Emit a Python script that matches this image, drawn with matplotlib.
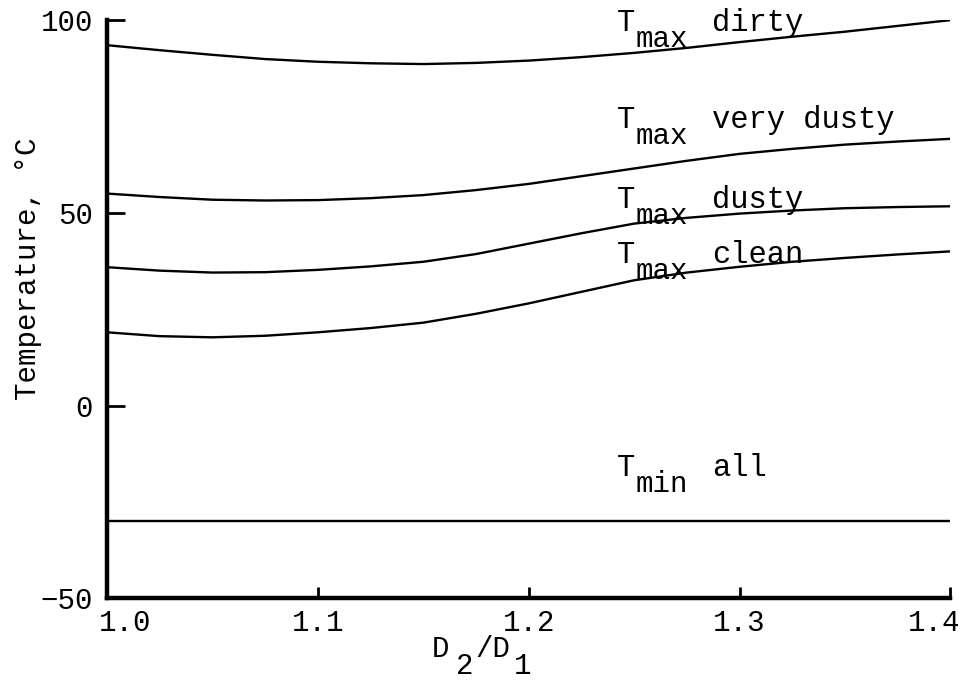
import numpy as np
import matplotlib
matplotlib.use("Agg")
import matplotlib.pyplot as plt
from matplotlib.transforms import ScaledTranslation

plt.rcParams['font.family'] = ['Liberation Mono', 'DejaVu Sans Mono']

# D2/D1 values
ratio = [1.0, 1.025, 1.05, 1.075, 1.1, 1.125, 1.15, 1.175, 1.2,
         1.225, 1.25, 1.275, 1.3, 1.325, 1.35, 1.375, 1.4]

t_dirty = [93.5, 92.2, 91.0, 89.9, 89.2, 88.8, 88.6, 88.9, 89.5,
           90.4, 91.5, 92.8, 94.3, 95.7, 97.0, 98.5, 100.0]
t_very_dusty = [55.0, 54.1, 53.4, 53.2, 53.3, 53.8, 54.6, 55.9, 57.5,
                59.5, 61.5, 63.5, 65.3, 66.6, 67.7, 68.5, 69.2]
t_dusty = [35.9, 35.0, 34.5, 34.6, 35.2, 36.1, 37.3, 39.3, 42.0,
           44.7, 47.2, 48.7, 49.8, 50.6, 51.2, 51.5, 51.7]
t_clean = [19.0, 18.0, 17.7, 18.1, 19.0, 20.1, 21.5, 23.8, 26.5,
           29.5, 32.5, 34.5, 36.0, 37.3, 38.3, 39.2, 40.0]
t_min_all = [-30.0] * len(ratio)

# curve labels: subscript, condition, baseline temperature
label_sub = ['max', 'max', 'max', 'max', 'min']
label_word = ['dirty', 'very dusty', 'dusty', 'clean', 'all']
label_y = [97.1, 72.0, 51.2, 36.9, -18.3]

FS = 21
LFS = 22

fig = plt.figure(figsize=(9.63, 6.94), dpi=100)
ax = fig.add_axes([0.111, 0.138, 0.876, 0.833])

for series in [t_dirty, t_very_dusty, t_dusty, t_clean, t_min_all]:
    ax.plot(ratio, series, color='black', lw=1.7)


def shift(dx, dy):
    # pixel offset
    return ScaledTranslation(dx / 100, -dy / 100, fig.dpi_scale_trans)


for sub, word, ly in zip(label_sub, label_word, label_y):
    ax.text(1.242, ly, 'T', fontsize=LFS, va='baseline', ha='left')
    ax.text(1.242, ly, sub, fontsize=LFS - 1, va='baseline', ha='left',
            transform=ax.transData + shift(18, 16))
    ax.text(1.242, ly, word, fontsize=LFS, va='baseline', ha='left',
            transform=ax.transData + shift(95, 0))

ax.set_xlim(1.0, 1.4)
ax.set_ylim(-50, 100)
ax.set_xticks([1.0, 1.1, 1.2, 1.3, 1.4])
ax.set_xticklabels(['1.0', '1.1', '1.2', '1.3', '1.4'])
ax.set_yticks([-50, 0, 50, 100])

ax.spines['top'].set_visible(False)
ax.spines['right'].set_visible(False)
ax.spines['left'].set_linewidth(3.2)
ax.spines['bottom'].set_linewidth(3.2)
ax.tick_params(axis='both', direction='in', labelsize=FS, width=2)
ax.tick_params(axis='y', length=13, pad=10)
ax.tick_params(axis='x', length=8, pad=8)

xt = ax.get_xticklabels()
xt[0].set_transform(xt[0].get_transform() + shift(18, 0))
xt[-1].set_transform(xt[-1].get_transform() + shift(-16, 0))

ax.set_ylabel('Temperature, °C', fontsize=FS)
ax.yaxis.set_label_coords(-0.077, 0.57)

# x label D2/D1 with full-size lowered subscripts
xa = ax.transAxes
ax.text(0.385, -0.102, 'D', fontsize=FS, ha='left', va='baseline', transform=xa)
ax.text(0.385, -0.102, '2', fontsize=FS, ha='left', va='baseline', transform=xa + shift(24, 17))
ax.text(0.385, -0.102, '/D', fontsize=FS, ha='left', va='baseline', transform=xa + shift(44, 0))
ax.text(0.385, -0.102, '1', fontsize=FS, ha='left', va='baseline', transform=xa + shift(82, 17))

fig.savefig('out.png', dpi=100)
